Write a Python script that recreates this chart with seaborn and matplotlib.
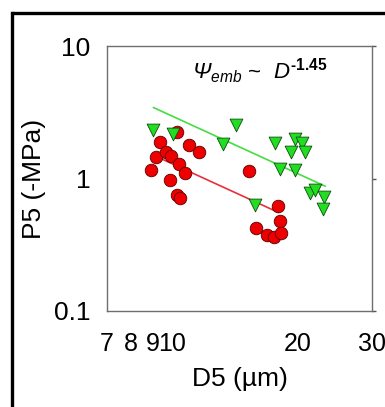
import numpy as np
import pandas as pd
import matplotlib
matplotlib.use("Agg")
import matplotlib.pyplot as plt
from matplotlib.ticker import FixedLocator, NullFormatter, NullLocator
from matplotlib.lines import Line2D
import seaborn as sns

# Vessel diameter D5 (µm) and embolism pressure P5 (-MPa)
red_d5 = [8.90, 9.16, 9.37, 9.68, 9.97, 9.90, 10.27, 10.42, 10.75, 10.30,
          10.46, 10.99, 11.63, 15.25, 15.88, 16.84, 17.54, 17.89, 18.12, 18.22]
red_p5 = [1.165, 1.45, 1.89, 1.59, 1.486, 0.98, 2.23, 1.278, 1.10, 0.755,
          0.713, 1.787, 1.585, 1.146, 0.424, 0.3755, 0.3627, 0.617, 0.479, 0.389]

green_d5 = [9.03, 10.05, 13.27, 14.23, 15.77, 17.63, 18.12, 19.22,
            19.64, 19.68, 20.42, 20.79, 21.37, 21.97, 23.08, 22.91]
green_p5 = [2.305, 2.163, 1.818, 2.543, 0.628, 1.85, 1.186, 1.59,
            1.983, 1.152, 1.85, 1.574, 0.778, 0.815, 0.726, 0.593]

# Power-law fits  P5 = P0 * (D5 / D0) ** exponent
fit_exponent = -1.45
red_fit_d = [9.46, 17.96]
red_fit_p0 = 1.403
green_fit_d = [9.03, 23.21]
green_fit_p0 = 3.435

x_ticks = [7, 8, 9, 10, 20, 30]
x_tick_labels = ["7", "8", "9", "10", "20", "30"]
y_ticks = [0.1, 1, 10]
y_tick_labels = ["0.1", "1", "10"]

sns.set_style("white")
plt.rcParams["font.family"] = ["Liberation Sans", "DejaVu Sans"]
plt.rcParams["text.color"] = "black"
plt.rcParams["axes.labelcolor"] = "black"
plt.rcParams["xtick.color"] = "black"
plt.rcParams["ytick.color"] = "black"
plt.rcParams["mathtext.fontset"] = "custom"
plt.rcParams["mathtext.rm"] = "Liberation Sans"
plt.rcParams["mathtext.it"] = "Liberation Sans:italic"
plt.rcParams["mathtext.sf"] = "Liberation Sans:italic"
plt.rcParams["mathtext.bf"] = "Liberation Sans:bold"

fig = plt.figure(figsize=(3.85, 4.07), dpi=100)
ax = fig.add_axes([107 / 385, 1 - 311 / 407, 265 / 385, 265 / 407])

red_df = pd.DataFrame({"D5": red_d5, "P5": red_p5})
green_df = pd.DataFrame({"D5": green_d5, "P5": green_p5})


def fit_frame(d_range, p0):
    d = np.array(d_range, dtype=float)
    return pd.DataFrame({"D5": d, "P5": p0 * (d / d[0]) ** fit_exponent})


sns.lineplot(data=fit_frame(red_fit_d, red_fit_p0), x="D5", y="P5", ax=ax,
             color="#e8303a", lw=1.2, zorder=2)
sns.lineplot(data=fit_frame(green_fit_d, green_fit_p0), x="D5", y="P5", ax=ax,
             color="#44dd44", lw=1.2, zorder=2)
sns.scatterplot(data=red_df, x="D5", y="P5", ax=ax, marker="o", s=82,
                color="#ee0000", edgecolor="#5a0000", linewidth=0.6, zorder=3)
sns.scatterplot(data=green_df, x="D5", y="P5", ax=ax, marker="v", s=85,
                color="#22dd22", edgecolor="#0d4d0d", linewidth=0.6, zorder=4)

ax.set_xscale("log")
ax.set_yscale("log")
ax.set_xlim(7, 30)
ax.set_ylim(0.1, 10)

ax.xaxis.set_major_locator(FixedLocator(x_ticks))
ax.set_xticklabels(x_tick_labels)
ax.xaxis.set_minor_locator(FixedLocator([10]))
ax.xaxis.set_minor_formatter(NullFormatter())
ax.yaxis.set_major_locator(FixedLocator(y_ticks))
ax.set_yticklabels(y_tick_labels)
ax.yaxis.set_minor_locator(NullLocator())

ax.tick_params(axis="x", which="major", length=0, pad=15, labelsize=18,
               labelcolor="black")
ax.tick_params(axis="x", which="minor", bottom=True, length=3, width=1,
               direction="out", color="#333333")
ax.tick_params(axis="y", which="major", left=False, right=True, length=3,
               width=1, direction="out", color="#555555", pad=9,
               labelsize=19, labelleft=True, labelright=False,
               labelcolor="black")

for side in ["left", "right", "top", "bottom"]:
    ax.spines[side].set_visible(True)
    ax.spines[side].set_color("#6e6e6e")
    ax.spines[side].set_linewidth(1.0)

ax.set_xlabel("D5 (µm)", fontsize=19, labelpad=8, color="black")
ax.set_ylabel("P5 (-MPa)", fontsize=19, labelpad=6, color="black")

ax.text(0.575, 0.905,
        "$\\mathsf{Ψ}_{\\mathit{emb}}$ ~  $\\mathit{D}^{\\mathbf{\u20101.45}}$",
        transform=ax.transAxes, ha="center", va="center", fontsize=16,
        color="black")

# Outer frame: only its top and left edges fall inside the canvas
frame_x = 11.5 / 385
frame_y = 1 - 12.5 / 407
fig.add_artist(Line2D([frame_x, 1.01], [frame_y, frame_y],
                      transform=fig.transFigure, color="black", lw=2.4))
fig.add_artist(Line2D([frame_x, frame_x], [-0.01, frame_y],
                      transform=fig.transFigure, color="black", lw=2.4,
                      solid_capstyle="projecting"))

fig.savefig("out.png", dpi=100)
